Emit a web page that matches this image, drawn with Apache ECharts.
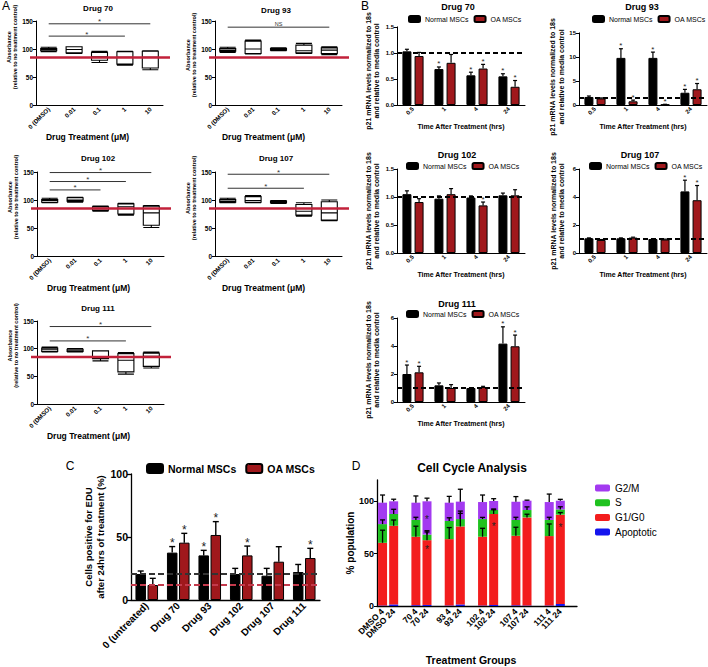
<!DOCTYPE html>
<html><head><meta charset="utf-8">
<script src="https://cdn.jsdelivr.net/npm/echarts@6/dist/echarts.min.js"></script>
<style>html,body{margin:0;padding:0;background:#fff}#c{width:708px;height:667px}</style>
</head><body><div id="c"></div>
<script>
// ================= DATA =================
// Panel A: absorbance box plots  [min, Q1, median, Q3, max]
const doseLabels = ['0 (DMSO)', '0.01', '0.1', '1', '10'];
const absThreshold = 85;
const boxDrug70  = [[95,97,99,101,103],[92,93,99,104,104],[76,80,86,94,96],[71,73,85,95,96],[63,66,85,96,97]];
const boxDrug93  = [[94,96,98,101,103],[91,92,100,114,116],[97,98,100,101,102],[92,93,97,107,110],[90,92,98,102,104]];
const boxDrug102 = [[95,96,99,101,103],[96,98,100,104,105],[80,82,85,88,89],[73,75,88,93,94],[51,55,77,89,90]];
const boxDrug107 = [[95,96,98,101,103],[95,96,99,106,108],[94,95,97,98,99],[71,73,80,92,95],[63,64,77,97,100]];
const boxDrug111 = [[94,95,98,101,103],[94,95,96,99,100],[78,82,84,96,96],[54,58,79,91,93],[65,68,86,92,94]];
// significance brackets: [fromCategory, toCategory, level, label]
const sigDrug70  = [[0,4,145,'*'],[0,3,123,'*']];
const sigDrug93  = [[0,4,139,'NS']];
const sigDrug102 = [[0,4,149,'*'],[0,3,133,'*'],[0,2,118,'*']];
const sigDrug107 = [[0,4,146,'*'],[0,3,121,'*']];
const sigDrug111 = [[0,4,140,'*'],[0,3,114,'*']];

// Panel B: p21 mRNA levels
const timeLabels = ['0.5', '1', '4', '24'];
const p21Drug70Normal = [1.03,0.69,0.57,0.55], p21Drug70NormalErr = [0.04,0.04,0.06,0.05], p21Drug70NormalSig = [0,1,1,1];
const p21Drug70OA     = [0.94,0.81,0.70,0.35], p21Drug70OAErr     = [0.07,0.16,0.08,0.12], p21Drug70OASig     = [0,0,1,1];
const p21Drug93Normal = [1.67,9.8,9.8,2.55],   p21Drug93NormalErr = [0.2,1.9,1.2,0.7],     p21Drug93NormalSig = [0,1,1,1];
const p21Drug93OA     = [1.37,0.77,0.1,3.27],  p21Drug93OAErr     = [0.1,0.25,0.05,1.2],   p21Drug93OASig     = [0,1,1,1];
const p21Drug102Normal = [1.05,0.97,0.99,1.03], p21Drug102NormalErr = [0.06,0.05,0.03,0.04], p21Drug102NormalSig = [0,0,0,0];
const p21Drug102OA     = [0.91,1.05,0.85,1.03], p21Drug102OAErr     = [0.06,0.1,0.06,0.1],   p21Drug102OASig     = [0,0,1,0];
const p21Drug107Normal = [1.05,1.05,1.0,4.4],   p21Drug107NormalErr = [0.03,0.03,0.03,0.8],  p21Drug107NormalSig = [0,0,0,1];
const p21Drug107OA     = [0.93,1.1,0.96,3.77],  p21Drug107OAErr     = [0.03,0.03,0.03,1.05], p21Drug107OASig     = [0,0,0,1];
const p21Drug111Normal = [2.0,1.19,1.0,4.17],   p21Drug111NormalErr = [0.64,0.17,0.03,1.2],  p21Drug111NormalSig = [1,0,0,1];
const p21Drug111OA     = [2.12,1.0,1.07,3.98],  p21Drug111OAErr     = [0.43,0.24,0.05,0.8],  p21Drug111OASig     = [1,0,0,1];
const p21Baselines = [1.0, 1.6, 1.0, 1.05, 1.0];

// Panel C: EdU positive cells
const eduGroups = ['0 (untreated)', 'Drug 70', 'Drug 93', 'Drug 102', 'Drug 107', 'Drug 111'];
const eduNormal = [20.6,37.6,35.4,20.6,19.3,22.2], eduNormalErr = [2.4,4.8,4.0,4.5,5.8,6.0], eduNormalSig = [0,1,1,0,0,0];
const eduOA     = [11.9,45.5,51.6,35.4,30.4,33.3], eduOAErr     = [5.3,7.4,10.6,7.4,11.9,7.7], eduOASig = [0,1,1,1,0,1];
const eduBaselineNormal = 20.6, eduBaselineOA = 12;

// Panel D: cell cycle (stacked %)
const cycleLabels = ['DMSO 4','DMSO 24','70 4','70 24','93 4','93 24','102 4','102 24','107 4','107 24','111 4','111 24'];
const cycleApoptotic = [0.5,1.5,0.8,1.0,0.5,1.5,0.5,1.0,0.8,0.5,0.5,2.0];
const cycleG1 = [59.7,74.9,65.2,61.7,63.2,74.3,65.5,86.6,66.2,83.9,66.1,85.0];
const cycleS  = [17.8,11.2,16.0,5.3,17.3,7.0,16.8,3.8,15.0,7.0,15.4,5.0];
const cycleG2 = [20.4,12.1,16.4,31.7,17.4,16.6,16.2,8.6,17.4,8.9,17.0,8.3];
const cycleG1Err = [12,5.5,10,9,11,12.4,8,4,8,3,11.5,2];
const cycleSErr  = [4,4.5,2.5,2.5,3,7.6,1.6,1,2.5,3,2.5,2.5];
const cycleG2Err = [7.3,2,6.4,3,6,11.8,6.7,2.2,4.8,0.5,7.6,1.3];
const cycleStars = [[3,84],[3,56],[7,78],[11,77]]; // [bar index, level]

// ================= BUILD =================
const F = '"Liberation Sans", Arial, Helvetica, sans-serif';
const DARKRED = '#a0181c';
const grids = [], xAxes = [], yAxes = [], series = [], legends = [], graphics = [];

function addText(text, x, y, size, weight) {
  graphics.push({type:'text', x, y, silent:true,
    style:{text, font:(weight||'normal') + ' ' + size + 'px ' + F, fill:'#000', align:'center', verticalAlign:'middle'}});
}
function axisStyle(w) { return {show:true, lineStyle:{color:'#000', width:w||1}}; }

function panelA(rect, box, sig, title, tx, ty, namePad, yShift) {
  const gi = grids.length;
  grids.push({left:rect[0], top:rect[1], width:rect[2], height:rect[3]});
  xAxes.push({gridIndex:gi, type:'category', data:doseLabels,
    axisLine:axisStyle(1), axisTick:{alignWithLabel:true, length:3, lineStyle:{color:'#000'}},
    axisLabel:{interval:0, rotate:45, fontSize:6.2, fontWeight:'bold', color:'#000', fontFamily:F, margin:3},
    name:'Drug Treatment (μM)', nameLocation:'middle', nameGap:16,
    nameTextStyle:{fontSize:8.5, fontWeight:'bold', color:'#000', fontFamily:F, padding:[0, namePad, 0, 0]}});
  yAxes.push({gridIndex:gi, type:'value', min:0, max:150, interval:50,
    axisLine:axisStyle(1), axisTick:{show:true, length:3, lineStyle:{color:'#000'}}, splitLine:{show:false},
    axisLabel:{fontSize:6.5, fontWeight:'bold', color:'#000', fontFamily:F, margin:3},
    name:'Absorbance\n(relative to no treatment control)', nameLocation:'middle', nameRotate:90, nameGap:16,
    nameTextStyle:{fontSize:5.5, fontWeight:'bold', color:'#000', fontFamily:F, lineHeight:6.5, padding:[0, 0, 0, yShift]}});
  series.push({type:'boxplot', name:'box' + gi, xAxisIndex:gi, yAxisIndex:gi, data:box, boxWidth:[16,16], silent:true,
    itemStyle:{color:'#fff', borderColor:'#000', borderWidth:1.1}});
  series.push({type:'custom', xAxisIndex:gi, yAxisIndex:gi, z:5, silent:true, data:[[0, absThreshold]],
    renderItem:(p, api) => {
      const c = api.coord([0, api.value(1)]); const cs = p.coordSys;
      return {type:'line', shape:{x1:cs.x - 6, y1:c[1], x2:cs.x + cs.width + 7, y2:c[1]}, style:{stroke:'#c2213a', lineWidth:2.5}};
    }});
  series.push({type:'custom', xAxisIndex:gi, yAxisIndex:gi, z:5, silent:true, data:sig.map(s => [s[0], s[2]]),
    renderItem:(p, api) => {
      const s = sig[p.dataIndex];
      const a = api.coord([s[0], s[2]]), b = api.coord([s[1], s[2]]);
      const isStar = s[3] === '*';
      return {type:'group', children:[
        {type:'line', shape:{x1:a[0], y1:a[1], x2:b[0], y2:b[1]}, style:{stroke:'#333', lineWidth:1}},
        {type:'text', x:(a[0] + b[0]) / 2, y:a[1] - (isStar ? 2 : 3.5),
          style:{text:s[3], font:(isStar ? '8px ' : '5.5px ') + F, fill:'#333', align:'center', verticalAlign:'middle'}}]};
    }});
  addText(title, tx, ty, 8, 'bold');
}

function errSeries(gi, means, errs, stars, offset, capW, starSize, lw, starGap) {
  return {type:'custom', xAxisIndex:gi, yAxisIndex:gi, z:4, silent:true, itemStyle:{color:'#000'},
    data: means.map((m, i) => [i, m + errs[i]]),
    renderItem:(p, api) => {
      const i = p.dataIndex;
      const a = api.coord([i, means[i]]), b = api.coord([i, means[i] + errs[i]]);
      const x = a[0] + offset;
      const ch = [
        {type:'line', shape:{x1:x, y1:a[1], x2:x, y2:b[1]}, style:{stroke:'#000', fill:'none', lineWidth:lw}},
        {type:'line', shape:{x1:x - capW / 2, y1:b[1], x2:x + capW / 2, y2:b[1]}, style:{stroke:'#000', fill:'none', lineWidth:lw}}];
      if (stars[i]) ch.push({type:'text', x:x, y:b[1] - starGap,
        style:{text:'*', font:starSize + 'px ' + F, fill:'#222', align:'center', verticalAlign:'middle'}});
      return {type:'group', children:ch};
    }};
}

function panelB(o) {
  const gi = grids.length;
  grids.push({left:o.rect[0], top:o.rect[1], width:o.rect[2], height:o.rect[3]});
  xAxes.push({gridIndex:gi, type:'category', data:timeLabels,
    axisLine:axisStyle(1), axisTick:{alignWithLabel:true, length:3, lineStyle:{color:'#000'}},
    axisLabel:{interval:0, rotate:45, fontSize:6, fontWeight:'bold', color:'#000', fontFamily:F, margin:3},
    name:'Time After Treatment (hrs)', nameLocation:'middle', nameGap:18,
    nameTextStyle:{fontSize:7, fontWeight:'bold', color:'#000', fontFamily:F}});
  yAxes.push({gridIndex:gi, type:'value', min:0, max:o.max, interval:o.int,
    axisLine:axisStyle(1), axisTick:{show:true, length:3, lineStyle:{color:'#000'}}, splitLine:{show:false},
    axisLabel:{fontSize:6, fontWeight:'bold', color:'#000', fontFamily:F, margin:3, formatter:o.fmt},
    name:'p21 mRNA levels normalized to 18s\nand relative to media control', nameLocation:'middle', nameRotate:90, nameGap:o.nameGap,
    nameTextStyle:{fontSize:7, fontWeight:'bold', color:'#000', fontFamily:F, lineHeight:8.5, padding:[0, o.yShift || 0, 0, 0]}});
  const bw = 9, gap = 0.35, off = (bw + bw * gap) / 2;
  series.push({type:'bar', name:'Normal MSCs', xAxisIndex:gi, yAxisIndex:gi, data:o.normal, barWidth:bw, barGap:'35%', silent:true,
    itemStyle:{color:'#000', borderColor:'#000', borderWidth:1},
    markLine:{silent:true, symbol:['none','none'], label:{show:false}, lineStyle:{type:[5,3], color:'#000', width:2},
      data:[{yAxis:o.base}]}});
  series.push({type:'bar', name:'OA MSCs', xAxisIndex:gi, yAxisIndex:gi, data:o.oa, barWidth:bw, barGap:'35%', silent:true,
    itemStyle:{color:DARKRED, borderColor:'#000', borderWidth:1}});
  series.push(errSeries(gi, o.normal, o.normalErr, o.normalSig, -off, 4, 8, 1.2, 3));
  series.push(errSeries(gi, o.oa, o.oaErr, o.oaSig, off, 4, 8, 1.2, 3));
  legends.push({data:['Normal MSCs','OA MSCs'], left:o.leg[0], top:o.leg[1], padding:0, itemWidth:11, itemHeight:6, itemGap:5,
    selectedMode:false, textStyle:{fontSize:7, color:'#000', fontFamily:F}});
  addText(o.title, o.t[0], o.t[1], 9, 'bold');
}

// ---- Panel A ----
panelA([36, 21, 127, 84], boxDrug70, sigDrug70, 'Drug 70', 98, 8, 24, 32);
panelA([215, 21, 127, 84], boxDrug93, sigDrug93, 'Drug 93', 276, 10, 30, 16);
panelA([37, 172, 127, 84], boxDrug102, sigDrug102, 'Drug 102', 98, 158, 24, 34);
panelA([215, 172, 127, 84], boxDrug107, sigDrug107, 'Drug 107', 276, 158, 30, 32);
panelA([37, 321, 127, 83], boxDrug111, sigDrug111, 'Drug 111', 98, 308, 24, 34);

// ---- Panel B ----
const f1 = v => v.toFixed(1), f0 = v => String(v);
panelB({rect:[397, 22, 128, 83], max:1.5, int:0.5, fmt:f1, nameGap:16, yShift:10, base:p21Baselines[0],
  normal:p21Drug70Normal, normalErr:p21Drug70NormalErr, normalSig:p21Drug70NormalSig,
  oa:p21Drug70OA, oaErr:p21Drug70OAErr, oaSig:p21Drug70OASig, leg:[408, 15], title:'Drug 70', t:[458, 7]});
panelB({rect:[579, 21, 128, 84], max:15, int:5, fmt:f0, nameGap:13, yShift:16, base:p21Baselines[1],
  normal:p21Drug93Normal, normalErr:p21Drug93NormalErr, normalSig:p21Drug93NormalSig,
  oa:p21Drug93OA, oaErr:p21Drug93OAErr, oaSig:p21Drug93OASig, leg:[592, 15], title:'Drug 93', t:[642, 7]});
panelB({rect:[397, 169, 128, 84], max:1.5, int:0.5, fmt:f1, nameGap:16, base:p21Baselines[2],
  normal:p21Drug102Normal, normalErr:p21Drug102NormalErr, normalSig:p21Drug102NormalSig,
  oa:p21Drug102OA, oaErr:p21Drug102OAErr, oaSig:p21Drug102OASig, leg:[406, 162], title:'Drug 102', t:[457, 155]});
panelB({rect:[579, 169, 128, 84], max:6, int:2, fmt:f0, nameGap:13, base:p21Baselines[3],
  normal:p21Drug107Normal, normalErr:p21Drug107NormalErr, normalSig:p21Drug107NormalSig,
  oa:p21Drug107OA, oaErr:p21Drug107OAErr, oaSig:p21Drug107OASig, leg:[589, 162], title:'Drug 107', t:[640, 155]});
panelB({rect:[397, 318, 128, 84], max:6, int:2, fmt:f0, nameGap:16, base:p21Baselines[4],
  normal:p21Drug111Normal, normalErr:p21Drug111NormalErr, normalSig:p21Drug111NormalSig,
  oa:p21Drug111OA, oaErr:p21Drug111OAErr, oaSig:p21Drug111OASig, leg:[406, 310], title:'Drug 111', t:[457, 304]});

// ---- Panel C ----
(function () {
  const gi = grids.length;
  grids.push({left:131, top:474, width:189, height:126});
  xAxes.push({gridIndex:gi, type:'category', data:eduGroups,
    axisLine:axisStyle(1.3), axisTick:{alignWithLabel:true, length:4, lineStyle:{color:'#000', width:1.3}},
    axisLabel:{interval:0, rotate:45, fontSize:10, fontWeight:'bold', color:'#000', fontFamily:F, margin:4}});
  yAxes.push({gridIndex:gi, type:'value', min:0, max:100, interval:50,
    axisLine:axisStyle(1.3), axisTick:{show:true, length:4, lineStyle:{color:'#000', width:1.3}}, splitLine:{show:false},
    axisLabel:{fontSize:10.5, fontWeight:'bold', color:'#000', fontFamily:F, margin:3},
    name:'Cells positive for EDU\nafter 24hrs of treatment (%)', nameLocation:'middle', nameRotate:90, nameGap:24,
    nameTextStyle:{fontSize:9.5, fontWeight:'bold', color:'#000', fontFamily:F, lineHeight:12}});
  const bw = 10.5, off = (bw + bw * 0.15) / 2;
  series.push({type:'bar', name:'Normal MSCs', xAxisIndex:gi, yAxisIndex:gi, data:eduNormal, barWidth:bw, barGap:'15%', silent:true,
    itemStyle:{color:'#000', borderColor:'#000', borderWidth:1},
    markLine:{silent:true, symbol:['none','none'], label:{show:false},
      data:[{yAxis:eduBaselineNormal, lineStyle:{type:[6,3], color:'#333', width:2}},
            {yAxis:eduBaselineOA, lineStyle:{type:[6,3], color:'#c33a4c', width:2}}]}});
  series.push({type:'bar', name:'OA MSCs', xAxisIndex:gi, yAxisIndex:gi, data:eduOA, barWidth:bw, barGap:'15%', silent:true,
    itemStyle:{color:DARKRED, borderColor:'#000', borderWidth:1}});
  series.push(errSeries(gi, eduNormal, eduNormalErr, eduNormalSig, -off, 6, 12, 1.4, 3.5));
  series.push(errSeries(gi, eduOA, eduOAErr, eduOASig, off, 6, 12, 1.4, 3.5));
  legends.push({data:['Normal MSCs','OA MSCs'], left:146, top:463, padding:0, itemWidth:16, itemHeight:9, itemGap:9,
    selectedMode:false, textStyle:{fontSize:10.5, fontWeight:'bold', color:'#000', fontFamily:F}});
})();

// ---- Panel D ----
(function () {
  const gi = grids.length;
  const slotOf = j => Math.floor(j / 2) * 3 + (j % 2);
  const nSlots = slotOf(cycleLabels.length - 1) + 2; // trailing empty slot after last pair
  const cats = [];
  for (let k = 0; k < nSlots; k++) cats.push(' '.repeat(k + 1));
  cycleLabels.forEach((l, j) => { cats[slotOf(j)] = l; });
  const toSlots = arr => { const out = new Array(nSlots).fill(null); arr.forEach((v, j) => { out[slotOf(j)] = v; }); return out; };
  grids.push({left:377, top:480, width:200, height:126});
  xAxes.push({gridIndex:gi, type:'category', data:cats,
    axisLine:axisStyle(1.3), axisTick:{alignWithLabel:true, length:3, interval:(i, v) => v.trim() !== '', lineStyle:{color:'#000'}},
    axisLabel:{interval:0, rotate:45, fontSize:8.5, fontWeight:'bold', color:'#000', fontFamily:F, margin:4},
    name:'Treatment Groups', nameLocation:'middle', nameGap:48,
    nameTextStyle:{fontSize:10.5, fontWeight:'bold', color:'#000', fontFamily:F, padding:[0, 12, 0, 0]}});
  yAxes.push({gridIndex:gi, type:'value', min:0, max:120, interval:50,
    axisLine:axisStyle(1.3), axisTick:{show:true, length:3, lineStyle:{color:'#000'}, customValues:[0,50,100]}, splitLine:{show:false},
    axisLabel:{fontSize:9, fontWeight:'bold', color:'#000', fontFamily:F, margin:3, customValues:[0,50,100],
      formatter:v => (v > 100 ? '' : String(v))},
    name:'% population', nameLocation:'middle', nameRotate:90, nameGap:22,
    nameTextStyle:{fontSize:10, fontWeight:'bold', color:'#000', fontFamily:F}});
  const segs = [['Apoptotic', cycleApoptotic, '#1414ee'], ['G1/G0', cycleG1, '#f31d1d'], ['S', cycleS, '#1fc21f'], ['G2/M', cycleG2, '#a33af0']];
  segs.forEach(s => series.push({type:'bar', name:s[0], stack:'cycle', xAxisIndex:gi, yAxisIndex:gi, data:toSlots(s[1]),
    barWidth:9, silent:true, itemStyle:{color:s[2], borderWidth:0}}));
  // error bars on the top of each stacked segment
  const errItems = [];
  cycleLabels.forEach((l, j) => {
    const t1 = cycleApoptotic[j] + cycleG1[j], t2 = t1 + cycleS[j], t3 = t2 + cycleG2[j];
    errItems.push([slotOf(j), t1, cycleG1Err[j]], [slotOf(j), t2, cycleSErr[j]], [slotOf(j), t3, cycleG2Err[j]]);
  });
  series.push({type:'custom', xAxisIndex:gi, yAxisIndex:gi, z:4, silent:true, itemStyle:{color:'#000'},
    data:errItems.map(e => [e[0], e[1] + e[2]]),
    renderItem:(p, api) => {
      const e = errItems[p.dataIndex];
      const a = api.coord([e[0], e[1]]), b = api.coord([e[0], e[1] + e[2]]);
      return {type:'group', children:[
        {type:'line', shape:{x1:a[0], y1:a[1], x2:a[0], y2:b[1]}, style:{stroke:'#000', fill:'none', lineWidth:1.3}},
        {type:'line', shape:{x1:a[0] - 2.5, y1:b[1], x2:a[0] + 2.5, y2:b[1]}, style:{stroke:'#000', fill:'none', lineWidth:1.3}}]};
    }});
  series.push({type:'custom', xAxisIndex:gi, yAxisIndex:gi, z:5, silent:true, itemStyle:{color:'#222'},
    data:cycleStars.map(s => [slotOf(s[0]), s[1]]),
    renderItem:(p, api) => {
      const c = api.coord([api.value(0), api.value(1)]);
      return {type:'text', x:c[0], y:c[1] + 2, style:{text:'*', font:'10px ' + F, fill:'#222', align:'center', verticalAlign:'middle'}};
    }});
  legends.push({data:['G2/M','S','G1/G0','Apoptotic'], orient:'vertical', left:595, top:483, padding:0, itemWidth:15, itemHeight:7,
    itemGap:4.7, icon:'roundRect', selectedMode:false, textStyle:{fontSize:10, color:'#000', fontFamily:F}});
  addText('Cell Cycle Analysis', 472, 468, 12, 'bold');
})();

// panel letters
addText('A', 6, 6, 12, 'normal');
addText('B', 365, 6, 12, 'normal');
addText('C', 70, 466, 12, 'normal');
addText('D', 356, 466, 12, 'normal');

const chart = echarts.init(document.getElementById('c'), null, {renderer:'svg', width:708, height:667});
chart.setOption({animation:false, backgroundColor:'#fff', textStyle:{fontFamily:F},
  grid:grids, xAxis:xAxes, yAxis:yAxes, series:series, legend:legends, graphic:graphics});
</script>
</body></html>
